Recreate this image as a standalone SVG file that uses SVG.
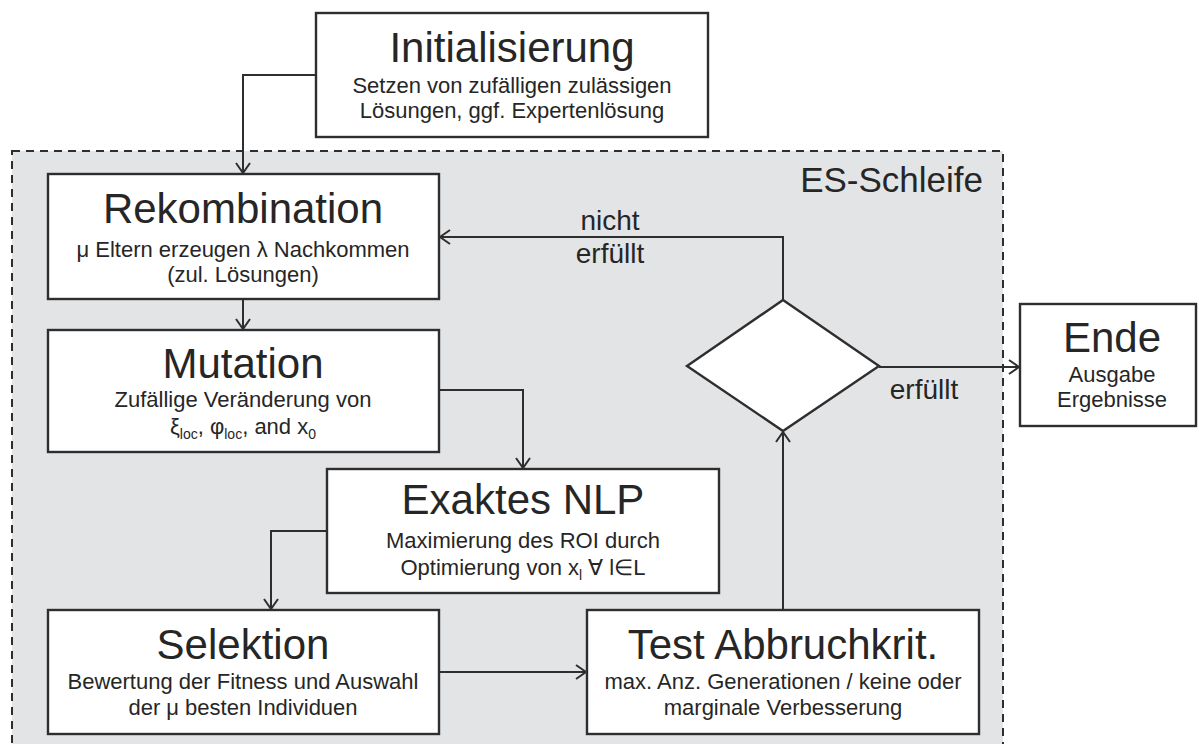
<svg xmlns="http://www.w3.org/2000/svg" width="1199" height="744" viewBox="0 0 1199 744">
  <style>
    .box { fill: #ffffff; stroke: #2e2e2e; stroke-width: 2.4; }
    .loop { fill: #e3e4e6; stroke: #2e2e2e; stroke-width: 2; stroke-dasharray: 8 6; }
    .edge { fill: none; stroke: #2e2e2e; stroke-width: 2; marker-end: url(#arrow); }
    text { font-family: "Liberation Sans", Arial, sans-serif; fill: #262626; text-anchor: middle; }
    .title { font-size: 42px; }
    .sub { font-size: 22px; }
    .lbl { font-size: 28px; }
    .idx { font-size: 14px; }
  </style>
  <defs>
    <marker id="arrow" viewBox="0 0 12 16" refX="11" refY="8" markerWidth="12" markerHeight="16" markerUnits="userSpaceOnUse" orient="auto">
      <path d="M1,1 L11,8 L1,15" fill="none" stroke="#2e2e2e" stroke-width="2"/>
    </marker>
  </defs>

  <!-- ES loop container -->
  <g id="es-schleife">
    <rect class="loop" x="12" y="151" width="991" height="600"/>
    <text class="lbl" x="983" y="192" style="text-anchor:end;font-size:35px">ES-Schleife</text>
  </g>

  <!-- connectors -->
  <g id="connectors">
    <polyline class="edge" points="316,75 243,75 243,173"/>
    <polyline class="edge" points="243,299 243,329"/>
    <polyline class="edge" points="439,390 523,390 523,468"/>
    <polyline class="edge" points="327,531 271,531 271,609"/>
    <polyline class="edge" points="439,672 586,672"/>
    <polyline class="edge" points="783,609 783,432"/>
    <polyline class="edge" points="783,300 783,237 440,237"/>
    <polyline class="edge" points="879,367 1019,367"/>
    <text class="lbl" x="610" y="230">nicht</text>
    <text class="lbl" x="610" y="263">erfüllt</text>
    <text class="lbl" x="924" y="399">erfüllt</text>
  </g>

  <g id="initialisierung">
    <rect class="box" x="316" y="13" width="392" height="124"/>
    <text class="title" x="512" y="62">Initialisierung</text>
    <text class="sub" x="512" y="93">Setzen von zufälligen zulässigen</text>
    <text class="sub" x="512" y="118">Lösungen, ggf. Expertenlösung</text>
  </g>

  <g id="rekombination">
    <rect class="box" x="48" y="174" width="391" height="125"/>
    <text class="title" x="243" y="223">Rekombination</text>
    <text class="sub" x="243" y="257">μ Eltern erzeugen λ Nachkommen</text>
    <text class="sub" x="243" y="282">(zul. Lösungen)</text>
  </g>

  <g id="mutation">
    <rect class="box" x="48" y="330" width="391" height="122"/>
    <text class="title" x="243" y="378">Mutation</text>
    <text class="sub" x="243" y="407">Zufällige Veränderung von</text>
    <text class="sub" x="243" y="434">ξ<tspan class="idx" dy="5">loc</tspan><tspan dy="-5">, φ</tspan><tspan class="idx" dy="5">loc</tspan><tspan dy="-5">, and x</tspan><tspan class="idx" dy="5">0</tspan></text>
  </g>

  <g id="exaktes-nlp">
    <rect class="box" x="327" y="469" width="392" height="124"/>
    <text class="title" x="523" y="514">Exaktes NLP</text>
    <text class="sub" x="523" y="548">Maximierung des ROI durch</text>
    <text class="sub" x="523" y="575">Optimierung von x<tspan class="idx" dy="5">l</tspan><tspan dy="-5"> ∀ l∈L</tspan></text>
  </g>

  <g id="selektion">
    <rect class="box" x="48" y="610" width="391" height="124"/>
    <text class="title" x="243" y="659">Selektion</text>
    <text class="sub" x="243" y="689">Bewertung der Fitness und Auswahl</text>
    <text class="sub" x="243" y="715">der μ besten Individuen</text>
  </g>

  <g id="test-abbruchkriterium">
    <rect class="box" x="587" y="610" width="392" height="124"/>
    <text class="title" x="783" y="659">Test Abbruchkrit.</text>
    <text class="sub" x="783" y="689">max. Anz. Generationen / keine oder</text>
    <text class="sub" x="783" y="715">marginale Verbesserung</text>
  </g>

  <g id="entscheidung">
    <polygon class="box" points="783,300 879,366 783,431 687,366"/>
  </g>

  <g id="ende">
    <rect class="box" x="1020" y="304" width="176" height="122"/>
    <text class="title" x="1112" y="352">Ende</text>
    <text class="sub" x="1112" y="382">Ausgabe</text>
    <text class="sub" x="1112" y="407">Ergebnisse</text>
  </g>
</svg>
